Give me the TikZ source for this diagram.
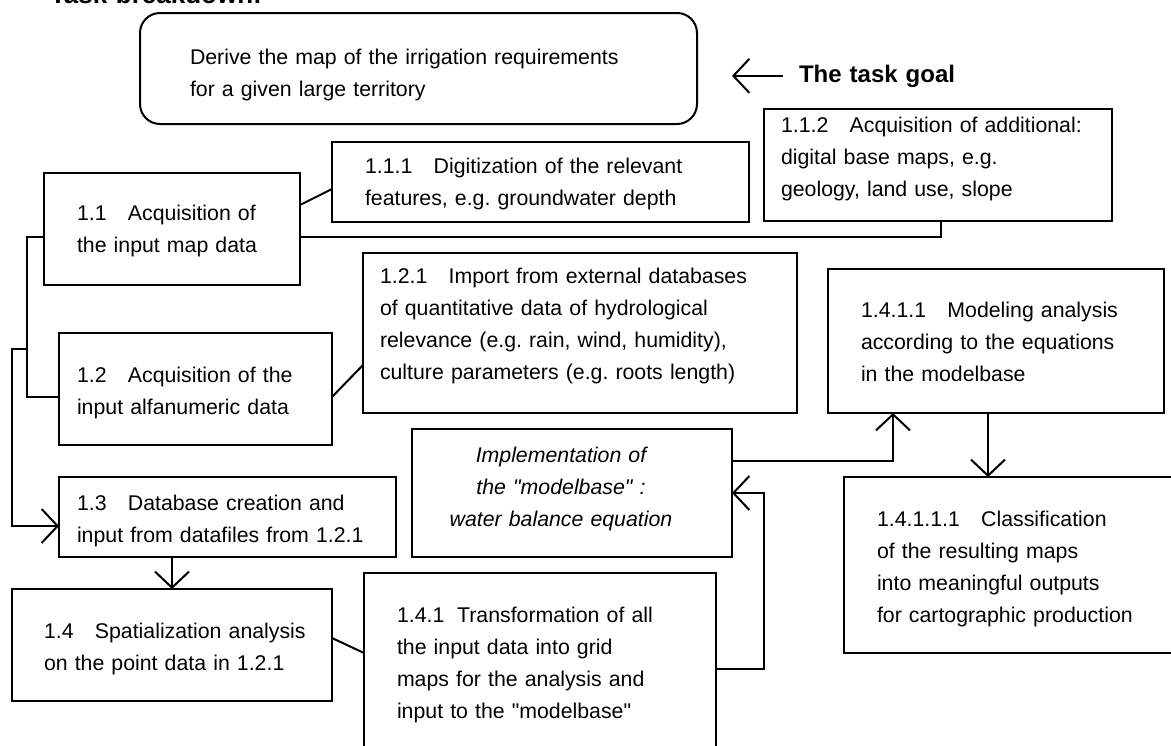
\documentclass[tikz,border=0pt]{standalone}
\usepackage{fontspec}
\setmainfont{Liberation Sans}[Ligatures=TeXOff]
\usetikzlibrary{arrows.meta}
\frenchspacing
\begin{document}
\frenchspacing
\begin{tikzpicture}[x=1pt,y=-1pt, line width=2pt,
  box/.style={draw, line width=2pt, inner sep=0pt, outer sep=0pt},
  txt/.style={anchor=base west, inner sep=0pt, outer sep=0pt, align=left, text width=430pt, font=\fontsize{21.3}{32}\selectfont},
  >={Straight Barb[length=16pt,width=34pt]}]
\useasboundingbox (0,0) rectangle (1171,745);

% title (partly cut off at the top)
\node[txt, font=\bfseries\fontsize{26}{30}\selectfont] (title) at (50,3) {Task breakdown:};

% boxes
\node[box, rounded corners=20pt, minimum width=557pt, minimum height=111pt] (goal) at (418.5,68.5) {};
\node[box, minimum width=417pt, minimum height=80pt] (b111) at (540.5,182) {};
\node[box, minimum width=348pt, minimum height=112pt] (b112) at (938,165) {};
\node[box, minimum width=256pt, minimum height=112pt] (b11) at (172,229) {};
\node[box, minimum width=273pt, minimum height=112pt] (b12) at (195.5,389) {};
\node[box, minimum width=434pt, minimum height=160pt] (b121) at (580,333) {};
\node[box, minimum width=336pt, minimum height=144pt] (b1411) at (996,341) {};
\node[box, minimum width=320pt, minimum height=128pt] (impl) at (572,493) {};
\node[box, minimum width=337pt, minimum height=80pt] (b13) at (227.5,517) {};
\node[box, minimum width=320pt, minimum height=112pt] (b14) at (172,645) {};
\node[box, minimum width=352pt, minimum height=207pt] (b141) at (540,676.5) {};
\node[box, minimum width=336pt, minimum height=176pt] (b14111) at (1012,565) {};

% texts
\node[txt] (tgoal) at (190,64) {Derive the map of the irrigation requirements\\for a given large territory};
\node[txt, font=\bfseries\fontsize{24}{28}\selectfont] (tgoalname) at (799,82) {The task goal};
\node[txt] (t111) at (365,173) {1.1.1\quad Digitization of the relevant\\features, e.g. groundwater depth};
\node[txt] (t112) at (781,132) {1.1.2\quad Acquisition of additional:\\digital base maps, e.g.\\geology, land use, slope};
\node[txt] (t11) at (77,220) {1.1\quad Acquisition of\\the input map data};
\node[txt] (t12) at (77,382) {1.2\quad Acquisition of the\\input alfanumeric data};
\node[txt] (t121) at (380,283) {1.2.1\quad Import from external databases\\of quantitative data of hydrological\\relevance (e.g. rain, wind, humidity),\\culture parameters (e.g. roots length)};
\node[txt] (t1411) at (861,317) {1.4.1.1\quad Modeling analysis\\according to the equations\\in the modelbase};
\node[txt, anchor=base, align=center, text width=320pt, font=\itshape\fontsize{21.3}{32}\selectfont] (timpl) at (561,462) {Implementation of\\the "modelbase" :\\water balance equation};
\node[txt] (t13) at (77,510) {1.3\quad Database creation and\\input from datafiles from 1.2.1};
\node[txt] (t14) at (44,638) {1.4\quad Spatialization analysis\\on the point data in 1.2.1};
\node[txt] (t141) at (397,622) {1.4.1\hspace{0.6em}Transformation of all\\the input data into grid\\maps for the analysis and\\input to the "modelbase"};
\node[txt] (t14111) at (877,526) {1.4.1.1.1\quad Classification\\of the resulting maps\\into meaningful outputs\\for cartographic production};

% connectors
\coordinate (goaltip) at (732,76);
\draw[->] ([xshift=-16pt]tgoalname.west) -- (goaltip |- tgoalname.west);
\draw (b11.east |- 0,205) -- (b111.west |- 0,189);
\draw (b112.south -| 941,0) |- (b11.east |- 0,237);
\draw (b11.west |- 0,237) -- ++(-17,0) coordinate (trunk) |- (b12.west |- 0,397);
\draw[->] (trunk |- 0,349) -- ++(-15,0) |- (b13.west |- 0,526);
\draw (b12.east |- 0,397) -- (b121.west |- 0,365);
\draw[->] (b13.south -| 172,0) -- (b14.north -| 172,0);
\draw (b14.east |- 0,638) -- (b141.west |- 0,653);
\draw[->] (b141.east |- 0,669) -- ++(48,0) |- (impl.east |- 0,493);
\draw[->] (impl.east |- 0,461) -| (b1411.south -| 893,0);
\draw[->] (b1411.south -| 988,0) -- (b14111.north -| 988,0);
\end{tikzpicture}
\end{document}
